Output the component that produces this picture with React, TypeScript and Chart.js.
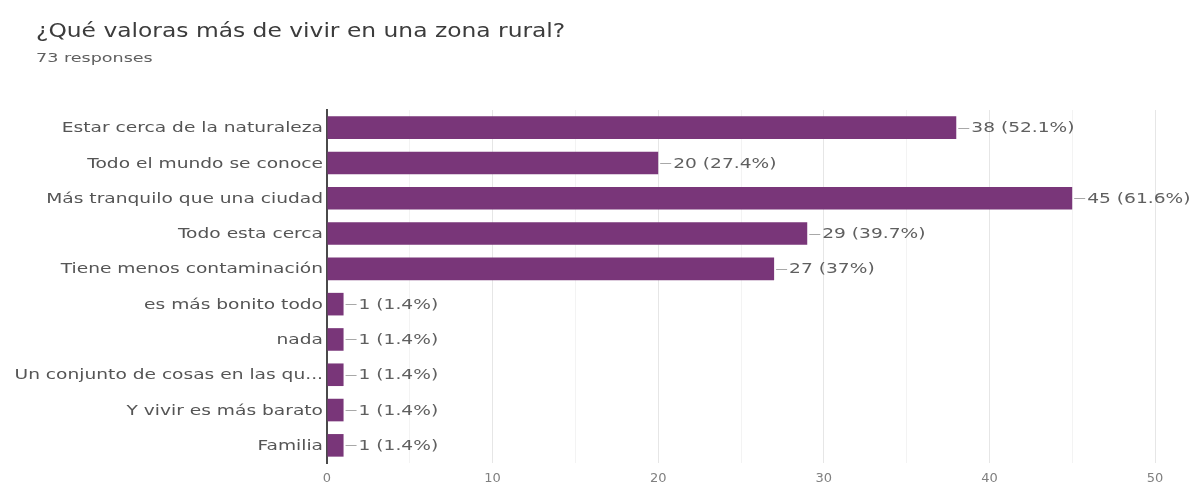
import React, { useEffect, useRef } from "react";
import { Chart, registerables } from "chart.js";

Chart.register(...registerables);

const TITLE = "¿Qué valoras más de vivir en una zona rural?";
const SUBTITLE = "73 responses";

const categories = [
  "Estar cerca de la naturaleza",
  "Todo el mundo se conoce",
  "Más tranquilo que una ciudad",
  "Todo esta cerca",
  "Tiene menos contaminación",
  "es más bonito todo",
  "nada",
  "Un conjunto de cosas en las qu...",
  "Y vivir es más barato",
  "Familia",
];
const counts = [38, 20, 45, 29, 27, 1, 1, 1, 1, 1];
const percents = ["52.1", "27.4", "61.6", "39.7", "37", "1.4", "1.4", "1.4", "1.4", "1.4"];

const AXIS_MAX = 50;
const STRETCH = 1.33;

const labelPlugin = {
  id: "stretchedLabels",
  afterDatasetsDraw(chart: any) {
    const ctx = chart.ctx;
    const meta = chart.getDatasetMeta(0);
    const yScale = chart.scales.y;
    ctx.save();
    // category labels
    ctx.font = "14px 'DejaVu Sans'";
    ctx.textBaseline = "middle";
    categories.forEach((label, i) => {
      const y = yScale.getPixelForValue(i);
      ctx.save();
      ctx.translate(yScale.right - 4, y + 1);
      ctx.scale(STRETCH, 1);
      ctx.fillStyle = "#555";
      ctx.textAlign = "right";
      ctx.fillText(label, 0, 0);
      ctx.restore();
    });
    // value labels
    meta.data.forEach((bar: any, i: number) => {
      const x = bar.x;
      const y = bar.y;
      ctx.strokeStyle = "#a8a8a8";
      ctx.lineWidth = 1;
      ctx.beginPath();
      ctx.moveTo(x + 2, Math.round(y) + 0.5);
      ctx.lineTo(x + 13, Math.round(y) + 0.5);
      ctx.stroke();
      ctx.save();
      ctx.translate(x + 15, y + 1);
      ctx.scale(STRETCH, 1);
      ctx.fillStyle = "#5f5f5f";
      ctx.textAlign = "left";
      ctx.fillText(`${counts[i]} (${percents[i]}%)`, 0, 0);
      ctx.restore();
    });
    ctx.restore();
  },
};

export default function App() {
  const ref = useRef<HTMLCanvasElement | null>(null);
  useEffect(() => {
    if (!ref.current) return;
    const chart = new Chart(ref.current, {
      type: "bar",
      data: {
        labels: categories,
        datasets: [
          {
            data: counts,
            backgroundColor: "#793679",
            borderWidth: 0,
            barPercentage: 0.64,
            categoryPercentage: 1,
          },
        ],
      },
      options: {
        indexAxis: "y",
        animation: false,
        responsive: false,
        maintainAspectRatio: false,
        layout: { padding: { top: 110, right: 44, bottom: 6, left: 0 } },
        plugins: {
          legend: { display: false },
          tooltip: { enabled: false },
          title: { display: false },
        },
        scales: {
          x: {
            min: 0,
            max: AXIS_MAX,
            ticks: {
              stepSize: 5,
              padding: 8,
              color: "#808080",
              font: { family: "'DejaVu Sans'", size: 13 },
              callback: (v: any) => (Number(v) % 10 === 0 ? String(v) : ""),
            },
            grid: {
              drawTicks: false,
              color: (c: any) =>
                c.tick && c.tick.value % 10 === 0 ? "#e6e6e6" : "#f3f3f3",
            },
            border: { display: false },
            afterFit: (s: any) => {
              s.height = 30;
            },
          },
          y: {
            ticks: { display: false },
            grid: { display: false, drawTicks: false },
            border: { display: true, color: "#4a4a4a", width: 2 },
            afterFit: (s: any) => {
              s.width = 327;
            },
          },
        },
      },
      plugins: [labelPlugin],
    });
    return () => chart.destroy();
  }, []);

  return (
    <div style={{ position: "absolute", left: 0, top: 0, width: 1199, height: 499, background: "#fff" }}>
      <canvas ref={ref} width={1199} height={499} style={{ position: "absolute", left: 0, top: 0 }} />
      <div
        style={{
          position: "absolute",
          left: 36,
          top: 19,
          fontFamily: "'DejaVu Sans'",
          fontSize: 19,
          color: "#3c3c3c",
          whiteSpace: "nowrap",
          transform: "scaleX(1.23)",
          transformOrigin: "left top",
        }}
      >
        {TITLE}
      </div>
      <div
        style={{
          position: "absolute",
          left: 36,
          top: 50,
          fontFamily: "'DejaVu Sans'",
          fontSize: 13,
          color: "#5f5f5f",
          whiteSpace: "nowrap",
          transform: "scaleX(1.35)",
          transformOrigin: "left top",
        }}
      >
        {SUBTITLE}
      </div>
    </div>
  );
}
